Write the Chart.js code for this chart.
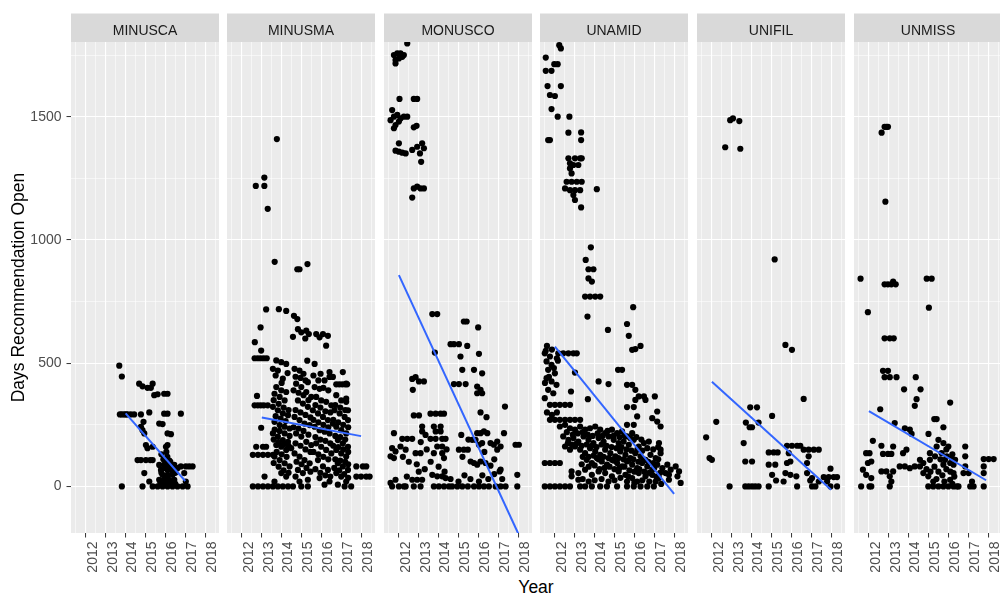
<!DOCTYPE html>
<html lang="en">
<head>
  <meta charset="UTF-8">
  <title>Days Recommendation Open by Mission</title>
  <script src="https://cdn.jsdelivr.net/npm/chart.js"></script>
  <style>
    body { margin: 0; background: #fff; width: 1000px; height: 593px; overflow: hidden; position: relative; font-family: "Liberation Sans", Arial, sans-serif; }
    canvas { position: absolute; top: 0; }
    #xtitle { position: absolute; left: 486px; width: 100px; top: 577px; text-align: center; font-size: 17.5px; line-height: 20px; color: #000; }
  </style>
</head>
<body>
  <div id="xtitle">Year</div>

  <script>
    // facets and axis labels
    const missions = ['MINUSCA', 'MINUSMA', 'MONUSCO', 'UNAMID', 'UNIFIL', 'UNMISS'];
    const yearLabels = ['2012', '2013', '2014', '2015', '2016', '2017', '2018'];
    const xGridValues = [2011.5, 2012, 2012.5, 2013, 2013.5, 2014, 2014.5, 2015, 2015.5, 2016, 2016.5, 2017, 2017.5, 2018, 2018.5];
    const yGridValues = [0, 250, 500, 750, 1000, 1250, 1500, 1750];
    const yLabelValues = [0, 500, 1000, 1500];

    // jittered points [year, days open]
    const minusca = [[2013.68,490],[2013.81,446],[2013.71,292],[2013.81,292],[2013.93,292],[2014.02,292],[2014.1,292],[2014.26,292],[2014.43,292],[2013.81,0],[2014.77,292],[2015.19,300],[2014.85,0],[2014.68,417],[2014.85,406],[2015.1,400],[2015.36,417],[2015.27,400],[2015.44,370],[2015.61,374],[2015.94,376],[2016.11,376],[2014.77,242],[2014.85,228],[2014.94,215],[2014.9,262],[2015.02,168],[2015.1,155],[2015.36,161],[2014.6,107],[2014.77,107],[2015.02,107],[2015.24,107],[2015.36,107],[2014.94,54],[2015.19,20],[2015.36,0],[2015.94,295],[2016.11,295],[2016.78,295],[2015.69,255],[2015.86,253],[2016.11,215],[2016.03,161],[2016.11,168],[2016.28,212],[2015.69,87],[2015.94,87],[2016.19,87],[2016.45,87],[2015.78,67],[2016.11,67],[2016.36,60],[2016.61,74],[2015.86,47],[2016.11,47],[2016.36,47],[2015.69,27],[2015.94,27],[2016.19,27],[2016.45,27],[2015.61,0],[2015.86,0],[2016.11,0],[2016.36,0],[2016.61,0],[2016.87,0],[2016.78,81],[2017.03,81],[2017.2,81],[2017.37,81],[2017.03,20],[2017.12,0],[2016.95,54],[2015.9,110],[2016.1,120],[2016.0,100],[2016.2,105],[2015.8,130],[2016.05,140],
      [2015.75,15],[2016.0,10],[2016.25,15],[2016.5,10],[2015.8,55],[2016.05,35],[2016.3,70],[2016.5,55],[2016.0,75],[2016.25,100]];

    const minusma = [[2013.76,1409],[2013.13,1253],[2012.7,1219],[2013.13,1219],[2013.3,1126],[2013.65,911],[2014.79,881],[2014.9,881],[2015.3,902],
      [2013.22,718],[2012.94,645],[2012.65,585],[2012.64,520],[2012.8,520],[2012.95,520],[2013.1,520],[2013.25,520],[2012.97,551],[2012.76,367],[2012.64,329],[2012.8,329],[2012.95,329],[2013.1,329],[2013.3,329],[2012.97,238],[2012.72,161],[2013.06,161],[2013.22,161],
      [2012.55,128],[2012.81,128],[2013.06,128],[2013.31,128],[2013.56,128],
      [2012.55,0],[2012.81,0],[2013.06,0],[2013.31,0],[2013.56,0],[2013.81,0],[2014.06,0],[2014.32,0],[2014.57,0],
      [2013.14,40],[2013.64,20],[2013.86,719],[2014.23,712],[2014.62,692],[2014.79,679],[2014.82,638],[2014.99,625],[2015.24,632],[2015.37,618],[2014.57,607],[2015.19,600],[2015.74,618],[2015.91,605],[2016.08,618],[2016.33,611],[2016.24,571],[2015.29,510],[2015.66,497],[2015.96,457],[2016.41,464],[2016.58,444],[2017.08,464],[2017.25,417],[2016.75,414],[2016.9,414],[2017.05,414],[2017.2,414],[2017.3,414],[2017.25,343],[2017.34,309],
      [2013.73,511],[2013.98,504],[2014.23,497],[2013.56,477],[2013.81,470],[2014.06,437],[2013.73,403],[2013.98,390],[2014.23,383],[2013.64,376],[2013.9,363],[2014.15,349],[2013.56,323],[2013.81,309],[2014.06,296],[2014.32,289],[2013.64,262],[2013.9,249],[2014.15,242],[2014.4,235],[2013.56,215],[2013.81,202],[2014.06,188],[2014.32,181],[2013.73,168],[2013.98,161],[2014.23,148],[2014.48,155],[2013.64,121],[2013.9,107],[2014.15,94],[2014.4,81],[2013.98,54],[2014.23,40],
      [2014.65,477],[2014.9,470],[2015.1,457],[2015.32,423],[2014.73,417],[2014.99,403],[2015.24,383],[2015.49,363],[2014.82,349],[2015.07,336],[2015.32,323],[2014.65,282],[2014.9,269],[2015.15,255],[2015.41,249],[2014.73,215],[2014.99,202],[2015.24,181],[2015.49,168],[2014.65,134],[2014.9,121],[2015.15,107],[2015.41,94],[2014.82,67],[2015.07,54],[2015.32,27],[2014.99,0],[2015.32,0],[2014.9,20],
      [2015.66,403],[2015.91,396],[2016.16,430],[2016.41,444],[2015.74,363],[2015.99,349],[2016.24,343],[2016.5,329],[2015.57,309],[2015.83,296],[2016.08,282],[2016.33,269],[2016.58,255],[2015.66,242],[2015.91,228],[2016.16,222],[2016.41,215],[2015.74,175],[2015.99,161],[2016.24,148],[2016.5,134],[2015.83,107],[2016.08,81],[2016.33,67],[2015.91,34],[2016.16,7],[2016.41,20],
      [2016.75,370],[2017.0,349],[2017.25,356],[2016.66,309],[2016.92,296],[2017.17,282],[2017.34,269],[2016.75,242],[2017.0,228],[2017.25,215],[2016.83,188],[2017.08,175],[2017.34,161],[2016.75,148],[2017.0,134],[2017.25,121],[2016.83,94],[2017.08,81],[2017.34,67],[2016.75,54],[2017.0,40],[2017.25,20],[2016.83,7],[2017.17,0],[2017.5,0],
      [2017.76,81],[2018.09,81],[2018.26,81],[2017.76,40],[2018.0,40],[2018.26,40],[2018.43,40],
      [2013.7,450],[2014.0,420],[2014.3,460],[2013.6,350],[2013.85,335],[2014.1,320],[2014.35,310],[2013.7,285],[2013.95,275],[2014.2,265],[2013.65,230],[2013.9,225],[2014.15,215],[2014.4,205],[2013.6,190],[2013.85,180],[2014.1,170],[2014.35,165],[2013.75,140],[2014.0,130],[2014.25,120],[2013.6,95],[2013.85,80],[2014.1,65],[2014.35,55],
      [2014.7,445],[2014.95,440],[2015.2,430],[2014.6,390],[2014.85,380],[2015.1,370],[2015.35,350],[2014.7,310],[2014.95,300],[2015.2,290],[2015.45,280],[2014.6,240],[2014.85,235],[2015.1,225],[2015.35,210],[2014.7,175],[2014.95,165],[2015.2,150],[2015.45,140],[2014.75,100],[2015.0,90],[2015.25,75],[2015.45,60],[2014.7,40],
      [2015.6,450],[2015.85,430],[2016.1,400],[2016.35,390],[2015.7,330],[2015.95,320],[2016.2,305],[2016.45,300],[2015.6,270],[2015.85,260],[2016.1,250],[2016.35,240],[2015.7,200],[2015.95,190],[2016.2,185],[2016.45,175],[2015.6,140],[2015.85,130],[2016.1,120],[2016.35,110],[2015.7,70],[2015.95,55],[2016.2,45],[2016.45,40],
      [2016.7,330],[2016.95,320],[2017.2,310],[2016.6,270],[2016.85,260],[2017.1,250],[2017.35,240],[2016.7,205],[2016.95,200],[2017.2,190],[2016.6,165],[2016.85,160],[2017.1,150],[2017.35,140],[2016.7,110],[2016.95,105],[2017.2,100],[2017.35,90],[2016.65,75],[2016.9,65],[2017.15,50],[2017.35,35]];

    const monusco = [[2011.75,1750],[2011.92,1757],[2012.08,1757],[2012.25,1750],[2011.83,1730],[2012.0,1736],[2011.83,1716],[2012.17,1743],[2012.42,1797],
      [2012.03,1572],[2012.75,1572],[2012.92,1572],
      [2011.66,1527],[2011.58,1486],[2011.75,1500],[2011.92,1507],[2012.08,1493],[2012.25,1500],[2012.42,1500],[2011.83,1466],[2011.75,1453],[2012.0,1480],
      [2012.75,1457],[2012.89,1463],
      [2012.0,1392],[2011.83,1362],[2012.0,1358],[2012.17,1354],[2012.34,1351],
      [2012.67,1365],[2012.92,1378],[2013.17,1392],[2013.26,1372],[2013.06,1351],[2013.12,1317],
      [2012.75,1209],[2012.92,1216],[2013.09,1209],[2013.26,1209],[2012.67,1172],
      [2013.68,699],[2013.93,699],[2015.27,669],[2015.41,669],[2015.99,645],[2013.81,543],[2014.6,577],[2014.77,577],[2015.02,577],[2015.1,527],[2015.44,570],[2015.19,473],[2015.78,473],[2016.19,459],[2014.77,415],[2015.02,415],[2015.36,415],[2015.94,405],[2016.11,392],[2015.94,378],[2016.19,378],[2016.03,538],
      [2012.67,436],[2012.84,443],[2013.01,426],[2013.26,426],[2012.7,392],
      [2012.75,288],[2013.01,288],[2013.59,295],[2013.85,295],[2014.1,295],[2014.27,295],
      [2016.11,300],[2016.41,281],[2017.34,324],
      [2011.75,216],[2012.17,193],[2012.42,193],[2012.67,193],
      [2013.17,243],[2013.17,223],[2013.34,209],[2013.76,243],[2013.85,223],[2014.1,243],[2014.1,223],
      [2013.59,193],[2013.85,193],[2014.18,193],[2014.35,193],
      [2011.66,155],[2011.83,142],[2011.58,122],[2011.75,115],
      [2012.08,162],[2012.34,149],
      [2012.84,135],[2013.09,135],[2013.76,135],
      [2013.93,162],[2014.18,162],[2014.18,135],[2014.27,115],
      [2015.14,209],[2015.02,149],[2015.27,149],[2015.47,149],
      [2015.69,189],[2015.86,189],[2015.94,216],[2016.11,216],[2016.28,223],[2016.45,216],
      [2016.03,169],[2016.19,176],[2016.61,176],[2016.78,169],[2016.95,182],[2017.12,162],[2016.95,149],[2017.29,216],
      [2015.61,101],[2015.78,95],[2015.94,88],[2016.11,101],[2016.36,95],[2016.61,84],[2017.07,61],
      [2017.87,169],[2018.04,169],
      [2011.58,14],[2011.83,27],[2012.25,0],[2012.67,27],[2012.92,27],[2013.17,27],[2013.68,47],[2013.93,41],[2014.18,41],[2014.35,34],
      [2011.66,0],[2012.0,0],[2012.34,0],[2012.75,0],[2013.09,0],[2013.76,0],[2014.01,0],[2014.27,0],[2014.52,0],[2014.68,0],[2014.94,0],[2015.19,0],[2015.47,0],[2015.78,0],[2016.03,0],[2016.28,0],[2016.53,0],[2016.87,0],[2017.12,0],[2017.37,0],[2017.96,0],
      [2016.03,20],[2017.12,68],[2017.96,47],
      [2012.2,120],[2012.5,100],[2012.9,90],[2013.3,70],[2013.6,100],[2014.0,80],[2014.3,60],[2012.4,40],[2013.0,60],[2014.6,30],[2015.0,20],[2015.3,45],[2015.6,30],[2016.2,45],[2016.5,30],[2016.8,50],[2017.2,30],[2013.4,150],[2013.1,180],[2014.4,150],[2015.2,120],[2015.5,190],[2016.3,140],[2016.8,110]];

    const unamid = [[2012.22,1790],[2012.3,1777],[2011.54,1740],[2012.14,1713],[2011.97,1713],[2011.54,1686],[2011.83,1686],[2011.63,1624],[2012.3,1624],[2011.75,1588],[2012.0,1584],[2011.83,1531],[2012.14,1500],[2012.73,1500],[2012.68,1435],[2013.32,1436],[2013.32,1405],[2011.66,1405],[2011.75,1405],
      [2012.68,1331],[2013.01,1331],[2013.27,1331],[2013.35,1331],[2012.76,1311],[2012.93,1304],[2013.18,1304],[2012.84,1270],[2012.76,1290],
      [2012.59,1236],[2012.84,1236],[2013.1,1236],[2013.35,1236],[2012.51,1209],[2012.76,1202],[2013.01,1202],[2013.27,1202],[2014.11,1206],[2012.93,1182],[2013.01,1162],[2013.32,1132],
      [2013.81,970],[2013.55,919],[2013.69,881],[2013.94,881],[2013.69,844],[2013.86,831],[2013.52,770],[2013.77,770],[2014.03,770],[2014.28,770],
      [2013.64,689],[2014.67,635],[2015.63,659],[2015.94,727],[2015.72,611],[2015.89,554],[2016.05,557],[2016.31,570],
      [2011.54,550],[2011.49,540],[2011.75,527],[2011.58,507],[2011.83,493],[2011.66,473],[2012.0,459],[2011.58,439],[2011.83,426],[2012.08,412],[2011.66,392],[2011.92,378],[2011.49,358],[2012.17,540],[2012.42,540],[2012.68,540],[2012.93,540],[2013.1,540],
      [2011.75,270],[2012.0,270],[2012.25,270],[2012.51,270],[2012.76,270],[2013.01,270],[2013.27,270],
      [2011.75,331],[2012.0,331],[2012.25,331],[2012.51,331],[2012.76,331],
      [2013.01,462],[2012.81,385],[2013.66,354],[2014.2,426],[2014.7,415],[2015.18,473],[2015.38,473],
      [2015.63,412],[2015.89,412],[2016.05,392],[2016.22,365],[2016.05,351],[2016.48,365],[2016.56,351],
      [2015.63,322],[2015.97,322],[2015.63,250],[2015.97,250],[2016.14,284],
      [2017.03,365],[2017.15,304],[2016.9,277],[2017.15,263],[2017.32,243],[2017.24,176],[2017.32,149],
      [2012.25,243],[2012.51,250],[2012.76,236],[2013.01,230],[2013.27,243],[2013.52,230],[2013.77,236],[2014.03,243],[2014.28,230],[2014.53,216],[2014.87,230],[2015.13,216],[2015.38,223],[2015.63,203],[2015.89,216],
      [2012.42,203],[2012.68,189],[2012.93,196],[2013.18,182],[2013.44,203],[2013.69,189],[2013.94,176],[2014.2,196],[2014.45,182],[2014.7,203],[2014.96,189],[2015.21,176],[2015.46,182],[2015.72,169],[2015.97,189],[2016.22,162],[2016.48,176],[2016.73,182],
      [2012.51,162],[2012.76,149],[2013.01,162],[2013.27,149],[2013.52,135],[2013.77,155],[2014.03,142],[2014.28,128],[2014.53,149],[2014.79,135],[2015.04,122],[2015.29,142],[2015.55,128],[2015.8,115],[2016.05,135],[2016.31,122],[2016.56,108],[2016.81,128],[2017.07,115],[2017.32,135],
      [2013.6,108],[2013.86,95],[2014.11,115],[2014.36,101],[2014.62,88],[2014.87,108],[2015.13,95],[2015.38,81],[2015.63,101],[2015.89,88],[2016.14,74],[2016.39,95],[2016.65,81],[2016.9,68],[2017.15,88],[2017.41,74],
      [2012.84,61],[2013.18,54],[2013.52,68],[2013.86,47],[2014.2,61],[2014.53,54],[2014.87,41],[2015.21,61],[2015.55,47],[2015.89,34],[2016.22,54],[2016.56,41],[2016.9,47],[2017.24,34],
      [2011.49,95],[2011.75,95],[2012.0,95],[2012.25,95],
      [2011.49,0],[2011.75,0],[2012.0,0],[2012.25,0],[2012.51,0],[2012.76,0],[2013.27,0],[2013.52,0],[2013.86,0],[2014.28,0],[2014.62,0],[2015.13,0],[2015.63,0],[2015.97,0],[2016.31,0],[2016.65,0],[2016.98,0],
      [2012.84,41],[2013.18,27],[2015.63,20],[2016.14,20],[2017.07,20],
      [2017.66,88],[2017.83,68],[2017.74,47],[2018.08,81],[2018.25,61],[2018.17,41],[2018.33,14],[2017.57,54],[2017.74,27],
      [2012.6,220],[2012.9,210],[2013.15,215],[2013.4,220],[2013.65,210],[2013.9,205],[2014.15,215],[2014.4,205],[2014.65,225],[2014.95,205],[2015.25,200],[2015.5,205],[2015.8,195],[2016.1,200],[2016.35,190],
      [2012.65,175],[2012.85,170],[2013.1,175],[2013.35,165],[2013.6,170],[2013.85,165],[2014.1,160],[2014.35,170],[2014.6,165],[2014.85,160],[2015.1,155],[2015.35,160],[2015.6,150],[2015.85,145],[2016.15,150],[2016.4,145],[2016.65,155],[2016.95,150],[2017.2,160],
      [2013.4,120],[2013.7,120],[2013.95,125],[2014.2,110],[2014.45,120],[2014.7,115],[2014.95,105],[2015.2,115],[2015.45,110],[2015.7,105],[2015.95,110],[2016.2,100],[2016.45,110],[2016.7,100],[2016.95,95],[2017.2,110],
      [2013.35,90],[2013.7,80],[2014.0,85],[2014.25,70],[2014.5,75],[2014.75,80],[2015.0,70],[2015.25,75],[2015.5,80],[2015.75,65],[2016.0,60],[2016.25,70],[2016.5,60],[2016.75,55],[2017.0,75],[2017.3,55],
      [2013.4,30],[2013.7,20],[2014.0,25],[2014.35,30],[2014.7,20],[2015.0,25],[2015.3,35],[2015.7,40],[2016.0,15],[2016.4,25],[2016.75,20],[2017.1,40],[2017.35,10],
      [2011.6,300],[2011.85,290],[2012.1,300],[2011.5,420],[2011.7,445],[2011.95,480],[2012.15,510],[2011.6,570],[2011.85,555],[2012.1,520]];

    const unifil = [[2012.92,1486],[2013.06,1493],[2013.38,1482],[2012.67,1376],[2013.43,1370],[2015.16,921],
      [2015.7,574],[2016.03,554],[2016.62,355],[2013.93,321],[2014.27,321],[2015.03,286],[2012.22,262],[2011.71,199],[2011.88,115],[2012.0,108],
      [2013.71,259],[2014.02,240],[2013.9,240],[2014.35,259],[2013.6,176],[2013.68,101],[2014.02,101],
      [2012.89,0],[2013.68,0],[2013.85,0],[2014.02,0],[2014.18,0],[2014.35,0],[2014.86,0],
      [2014.86,138],[2015.11,138],[2015.31,138],[2014.86,88],[2015.19,88],[2015.03,47],[2015.23,24],
      [2015.78,165],[2016.03,165],[2016.29,165],[2016.45,165],[2015.87,135],[2015.78,95],[2015.95,101],[2015.7,54],[2015.61,20],[2015.95,47],[2016.25,41],[2016.29,0],
      [2016.62,149],[2016.87,149],[2017.13,149],[2017.38,149],[2016.87,122],[2016.79,95],[2016.79,54],[2016.95,24],
      [2017.04,34],[2017.38,20],[2017.21,0],[2017.04,0],
      [2017.63,38],[2017.88,38],[2018.13,38],[2018.3,38],[2017.97,72],[2017.8,20],[2017.97,0],[2018.3,0]];

    const unmiss = [[2012.79,1459],[2012.88,1459],[2012.96,1459],[2012.64,1435],[2012.83,1155],[2011.58,843],[2012.79,820],[2012.96,820],[2013.13,820],[2013.22,831],[2013.35,820],[2014.91,843],[2015.16,843],
      [2011.95,707],[2015.02,725],[2012.79,601],[2013.05,601],[2013.25,601],[2012.71,469],[2012.96,469],[2012.79,443],[2013.05,443],[2013.39,443],[2013.77,394],[2014.36,443],[2014.6,394],[2014.4,354],[2014.31,327],[2012.57,313],[2013.3,257],[2013.81,236],[2014.06,230],[2014.15,213],[2015.0,213],[2015.29,273],[2015.41,273],[2016.09,340],[2015.75,240],
      [2012.2,185],[2012.03,135],[2011.86,135],[2012.12,101],[2011.95,95],[2011.7,68],[2011.86,47],[2012.12,34],[2011.61,0],[2012.03,0],[2012.12,0],
      [2012.63,165],[2012.71,132],[2012.96,132],[2013.13,132],[2012.63,61],[2012.88,61],[2013.05,41],[2013.22,61],[2013.13,20],[2013.05,0],
      [2013.22,162],[2013.72,135],[2013.89,149],
      [2013.55,81],[2013.81,81],[2014.06,74],[2014.31,81],[2014.57,81],[2014.74,95],[2014.57,108],[2015.07,108],[2015.33,122],[2015.07,135],
      [2014.74,54],[2014.99,41],[2015.24,20],[2015.5,0],[2015.75,0],[2016.0,0],[2016.26,0],[2016.51,0],[2014.99,0],[2015.24,0],
      [2015.5,189],[2015.75,176],[2016.0,162],[2015.41,162],[2015.66,135],[2015.92,122],[2016.17,115],[2016.34,108],[2015.83,108],[2016.09,95],[2016.26,88],[2015.75,88],
      [2016.26,54],[2016.09,27],[2016.43,0],
      [2016.85,162],[2016.85,122],[2016.85,81],[2016.76,54],[2017.02,54],[2017.1,0],[2017.27,0],[2017.19,20],
      [2017.78,111],[2018.03,111],[2018.28,111],[2017.78,81],[2017.78,54],[2017.78,0],
      [2014.9,70],[2015.1,60],[2015.3,80],[2015.5,60],[2015.7,45],[2015.9,70],[2016.1,60],[2016.3,40],[2015.6,110],[2015.9,150],[2016.2,130],[2015.4,30],[2015.8,20],[2016.2,10]];

    // linear fit end points [year, days] per mission
    const trendMinusca = [[2014, 296], [2017, 22]];
    const trendMinusma = [[2013, 280], [2018, 204]];
    const trendMonusco = [[2012, 857], [2018, -190]];
    const trendUnamid = [[2012, 567], [2018, -30]];
    const trendUnifil = [[2012, 425], [2018, -14]];
    const trendUnmiss = [[2012, 305], [2017.9, 25]];

    const panelPoints = [minusca, minusma, monusco, unamid, unifil, unmiss];
    const panelTrends = [trendMinusca, trendMinusma, trendMonusco, trendUnamid, trendUnifil, trendUnmiss];

    // layout of the six facets
    const canvasLeft = [0, 227, 384, 540, 697, 854];
    const canvasWidth = [219, 148, 148, 148, 148, 148];
    const fontFamily = '"Liberation Sans", Arial, sans-serif';

    Chart.defaults.font.family = fontFamily;

    const facetStrip = {
      id: 'facetStrip',
      beforeDraw(chart, args, opts) {
        const { ctx, chartArea: a } = chart;
        ctx.save();
        ctx.fillStyle = '#ebebeb';
        ctx.fillRect(a.left, a.top, a.right - a.left, a.bottom - a.top);
        ctx.fillStyle = '#d9d9d9';
        ctx.fillRect(a.left, 13.5, a.right - a.left, a.top - 13.5);
        ctx.fillStyle = '#1a1a1a';
        ctx.font = '14px ' + fontFamily;
        ctx.textAlign = 'center';
        ctx.textBaseline = 'alphabetic';
        ctx.fillText(opts.label, (a.left + a.right) / 2, 34.5);
        ctx.restore();
      }
    };

    const isYear = v => Number.isInteger(v);
    const isMajorY = v => yLabelValues.includes(v);

    missions.forEach(function(mission, i) {
      const canvas = document.createElement('canvas');
      canvas.width = canvasWidth[i];
      canvas.height = 593;
      canvas.style.left = canvasLeft[i] + 'px';
      document.body.appendChild(canvas);
      const first = i === 0;

      new Chart(canvas.getContext('2d'), {
        type: 'scatter',
        data: {
          datasets: [
            {
              data: panelPoints[i].map(p => ({ x: p[0], y: p[1] })),
              pointRadius: 3.1,
              pointBackgroundColor: '#000000',
              pointBorderWidth: 0,
              clip: 0,
              order: 2
            },
            {
              type: 'line',
              data: panelTrends[i].map(p => ({ x: p[0], y: p[1] })),
              borderColor: '#3366ff',
              borderWidth: 2,
              pointRadius: 0,
              fill: false,
              clip: 0,
              order: 1
            }
          ]
        },
        options: {
          responsive: false,
          animation: false,
          devicePixelRatio: 1,
          events: [],
          layout: { autoPadding: false, padding: { top: 42, left: 0, right: 0, bottom: 0 } },
          plugins: {
            legend: { display: false },
            tooltip: { enabled: false },
            facetStrip: { label: mission }
          },
          scales: {
            x: {
              type: 'linear',
              min: 2011.25,
              max: 2018.7,
              afterBuildTicks: s => { s.ticks = xGridValues.map(v => ({ value: v })); },
              afterFit: s => { s.height = 60; s.paddingLeft = 0; s.paddingRight = 0; },
              border: { display: false },
              grid: {
                color: '#ffffff',
                lineWidth: c => (c.tick && isYear(c.tick.value)) ? 1.1 : 0.55,
                drawTicks: true,
                tickLength: 4.5,
                tickWidth: 1,
                tickColor: c => (c.tick && isYear(c.tick.value)) ? '#333333' : 'rgba(0,0,0,0)'
              },
              ticks: {
                autoSkip: false,
                minRotation: 90,
                maxRotation: 90,
                padding: 4,
                labelOffset: 7,
                color: '#4d4d4d',
                font: { size: 14 },
                callback: v => {
                  const k = yearLabels.indexOf(String(v));
                  return k >= 0 ? yearLabels[k] : '';
                }
              }
            },
            y: {
              type: 'linear',
              min: -189,
              max: 1803,
              afterBuildTicks: s => { s.ticks = yGridValues.map(v => ({ value: v })); },
              afterFit: s => { s.width = first ? 71 : 0; s.paddingTop = 0; s.paddingBottom = 0; },
              border: { display: false },
              grid: {
                color: '#ffffff',
                lineWidth: c => (c.tick && isMajorY(c.tick.value)) ? 1.1 : 0.55,
                drawTicks: first,
                tickLength: 4.5,
                tickWidth: 1,
                tickColor: c => (c.tick && isMajorY(c.tick.value)) ? '#333333' : 'rgba(0,0,0,0)'
              },
              ticks: {
                display: first,
                autoSkip: false,
                padding: 5,
                color: '#4d4d4d',
                font: { size: 14 },
                callback: v => isMajorY(v) ? String(v) : ''
              },
              title: {
                display: first,
                text: 'Days Recommendation Open',
                color: '#000000',
                font: { size: 17.5 },
                padding: { top: 9, bottom: 0 }
              }
            }
          }
        },
        plugins: [facetStrip]
      });
    });
  </script>
